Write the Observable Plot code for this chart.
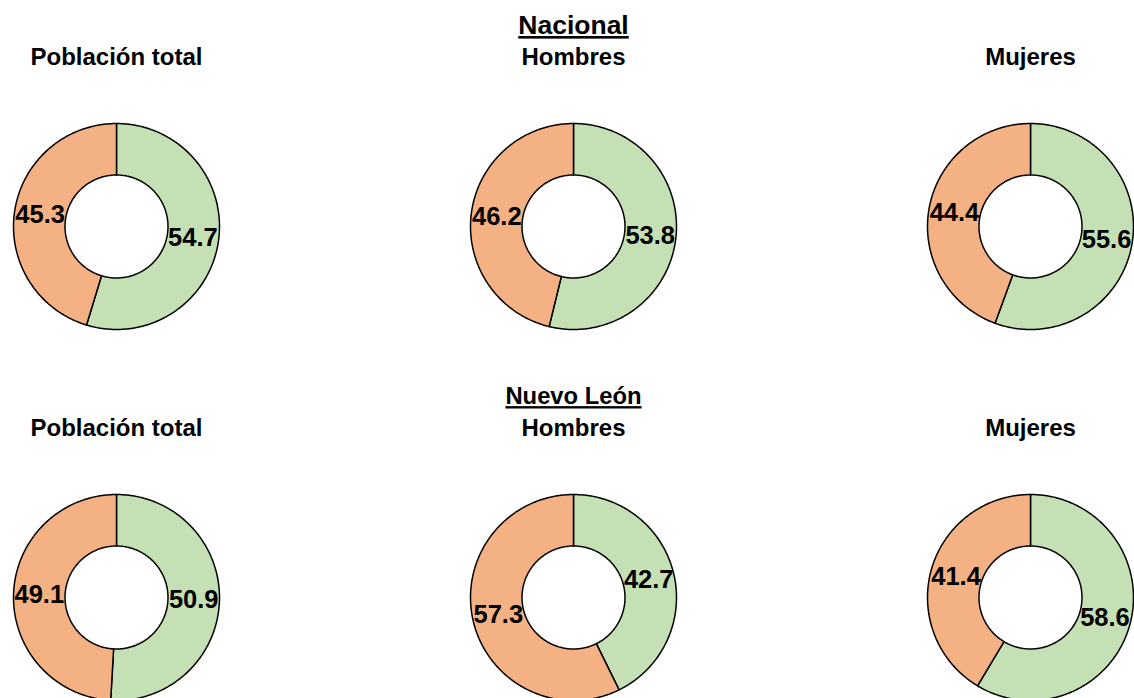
<!DOCTYPE html>
<html><head><meta charset="utf-8">
<script src="https://cdn.jsdelivr.net/npm/d3@7"></script>
<script src="https://cdn.jsdelivr.net/npm/@observablehq/plot@0.6"></script>
<style>
body{margin:0;background:#fff}
#chart svg text{font-family:"Liberation Sans",Arial,sans-serif}
</style>
</head><body><div id="chart"></div>
<script>
// ---- data ----
const regions = ["Nacional", "Nuevo León"];
const groups = ["Población total", "Hombres", "Mujeres"];
const seriesNames = ["Serie 1", "Serie 2"];
const nacionalSerie1 = [54.7, 53.8, 55.6];
const nacionalSerie2 = [45.3, 46.2, 44.4];
const nuevoLeonSerie1 = [50.9, 42.7, 58.6];
const nuevoLeonSerie2 = [49.1, 57.3, 41.4];

// ---- layout ----
const W = 1134, H = 698;
const colX = i => 116 + 457 * i;
const rowY = j => 226 + 371 * j;
const rInner = 51.5, rOuter = 103, rLabel = (rInner + rOuter) / 2;
const colors = ["#C5E0B4", "#F4B183"];

const valuesByRegion = [
  [nacionalSerie1, nacionalSerie2],
  [nuevoLeonSerie1, nuevoLeonSerie2]
];

const ringPoints = [];
const labels = [];
const titles = [];
regions.forEach((region, j) => {
  titles.push({x: colX(1), y: rowY(j) - 201, text: region, kind: "region", region});
  groups.forEach((group, i) => {
    titles.push({x: colX(i), y: rowY(j) - 169, text: group, kind: "group", region});
    const vals = valuesByRegion[j].map(s => s[i]);
    const arcs = d3.pie().sort(null)(vals);
    arcs.forEach((a, k) => {
      const id = `${region}-${group}-${k}`;
      const n = Math.max(2, Math.ceil((a.endAngle - a.startAngle) / (Math.PI / 180)));
      const cx = colX(i), cy = rowY(j);
      for (let s = 0; s <= n; s++) {
        const t = a.startAngle + (a.endAngle - a.startAngle) * s / n;
        ringPoints.push({id, series: seriesNames[k], x: cx + rOuter * Math.sin(t), y: cy - rOuter * Math.cos(t)});
      }
      for (let s = n; s >= 0; s--) {
        const t = a.startAngle + (a.endAngle - a.startAngle) * s / n;
        ringPoints.push({id, series: seriesNames[k], x: cx + rInner * Math.sin(t), y: cy - rInner * Math.cos(t)});
      }
      const m = (a.startAngle + a.endAngle) / 2;
      labels.push({x: cx + rLabel * Math.sin(m), y: cy - rLabel * Math.cos(m), value: a.data});
    });
  });
});

const chart = Plot.plot({
  width: W,
  height: H,
  margin: 0,
  style: {fontFamily: "'Liberation Sans', Arial, sans-serif", background: "#fff"},
  x: {domain: [0, W], range: [0, W], axis: null},
  y: {domain: [0, H], range: [0, H], axis: null},
  color: {domain: seriesNames, range: colors},
  marks: [
    Plot.line(ringPoints, {x: "x", y: "y", z: "id", fill: "series", stroke: "black", strokeWidth: 1.5, curve: "linear-closed", strokeLinejoin: "round"}),
    Plot.text(labels, {x: "x", y: "y", text: d => d.value.toFixed(1), fontSize: 25.5, fontWeight: "bold", fill: "black"}),
    Plot.text(titles, {x: "x", y: "y", text: "text", fontWeight: "bold", fill: "black",
      fontSize: d => d.kind === "region" ? (d.region === "Nacional" ? 26.5 : 23.8) : 24})
  ]
});
document.getElementById("chart").appendChild(chart);
d3.select(chart).selectAll("text")
  .filter(function () { return regions.includes(this.textContent); })
  .style("text-decoration", "underline");
</script>
</body></html>
